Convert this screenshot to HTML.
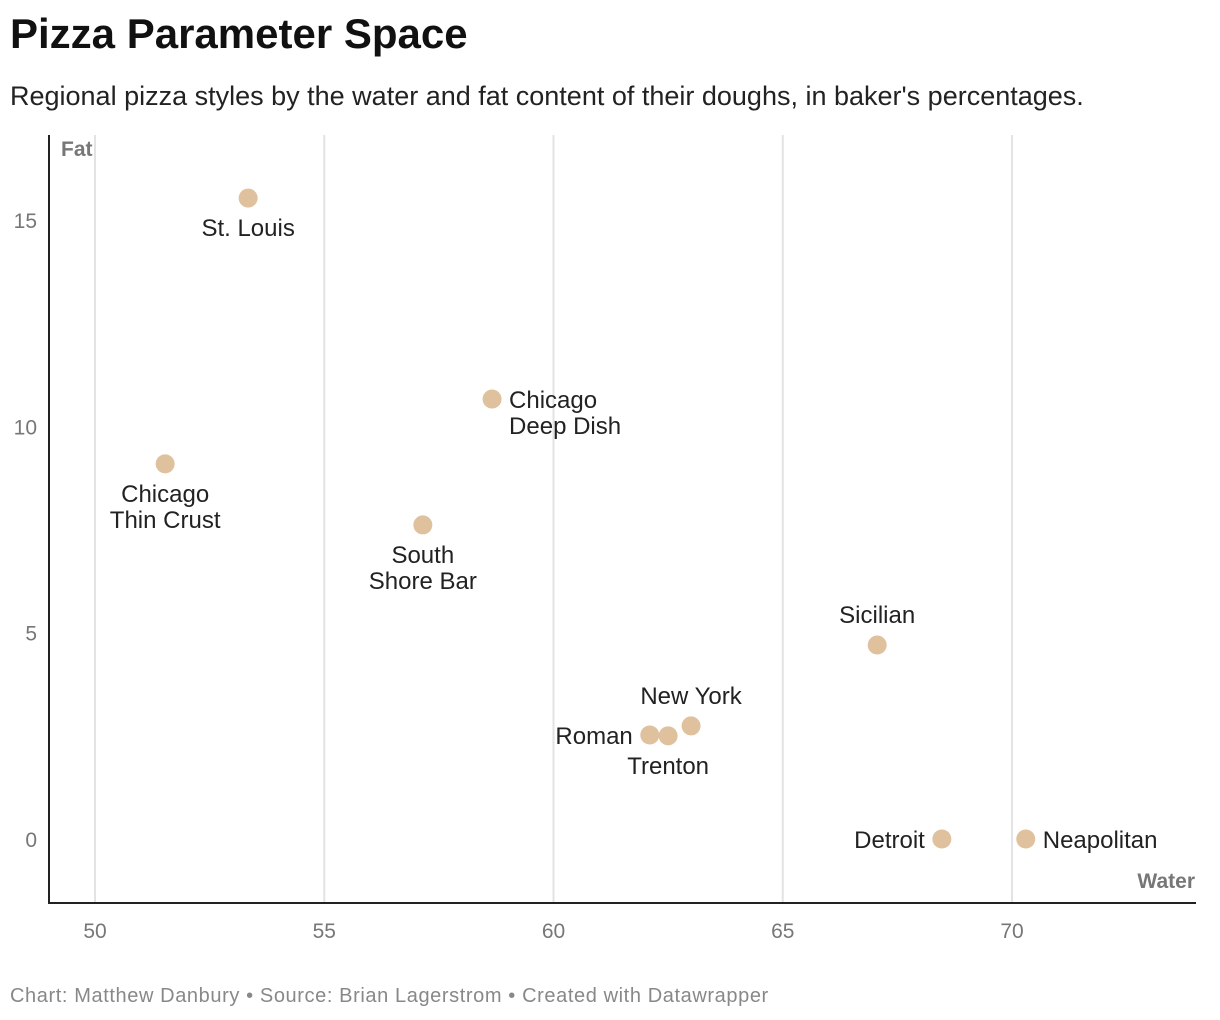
<!DOCTYPE html>
<html><head><meta charset="utf-8"><style>
body{margin:0;background:#fff;font-family:"Liberation Sans",sans-serif;}
#wrap{position:relative;width:1220px;height:1020px;overflow:hidden}
h1{position:absolute;left:10px;top:10px;margin:0;font-size:42px;font-weight:bold;color:#111}
.sub{position:absolute;left:10px;top:81px;font-size:27px;color:#222;white-space:nowrap}
.foot{position:absolute;left:10px;top:985px;font-size:20px;color:#888;letter-spacing:0.6px;white-space:nowrap}
</style></head><body>
<div id="wrap">
<h1>Pizza Parameter Space</h1>
<div class="sub">Regional pizza styles by the water and fat content of their doughs, in baker's percentages.</div>
<svg id="plot" width="1220" height="1020" style="position:absolute;left:0;top:0"></svg>
<div class="foot">Chart: Matthew Danbury • Source: Brian Lagerstrom • Created with Datawrapper</div>
</div>
<script>
const names=["St. Louis","Chicago\nDeep Dish","Chicago\nThin Crust","South\nShore Bar","Sicilian","New York","Roman","Trenton","Detroit","Neapolitan"];
const water=[53.34,58.66,51.53,57.15,67.06,63.0,62.1,62.5,68.47,70.3];
const fat=[15.53,10.66,9.09,7.61,4.70,2.74,2.52,2.5,0,0];
const labelPos=["below","right","below","below","above","above","left","below","left","right"];
const xTicks=[50,55,60,65,70];
const yTicks=[0,5,10,15];
const NS="http://www.w3.org/2000/svg";
const svg=document.getElementById('plot');
const X=v=>95+(v-50)*45.85;
const Y=v=>839-v*41.27;
function mk(t,a){const e=document.createElementNS(NS,t);for(const k in a)e.setAttribute(k,a[k]);svg.appendChild(e);return e;}
xTicks.forEach(t=>{
 const g=mk('line',{x1:X(t),x2:X(t),y1:135,y2:903,stroke:'#e3e3e3','stroke-width':2});
 
 
 const l=mk('text',{x:X(t),y:938,'text-anchor':'middle','font-size':21,fill:'#777'});
 l.textContent=t;
 
 
});
yTicks.forEach(t=>{
 const l=mk('text',{x:37,y:Y(t)+8,'text-anchor':'end','font-size':21,fill:'#777'});
 l.textContent=t;
 
 
});
let a=mk('line',{x1:49,x2:49,y1:135,y2:904,stroke:'#222','stroke-width':2});


a=mk('line',{x1:48,x2:1196,y1:903,y2:903,stroke:'#222','stroke-width':2});


let t=mk('text',{x:61,y:156,'font-size':21,'font-weight':'bold',fill:'#777'});t.textContent='Fat';


t=mk('text',{x:1195,y:888,'text-anchor':'end','font-size':21,'font-weight':'bold',fill:'#777'});t.textContent='Water';


names.forEach((n,i)=>{
 const cx=X(water[i]),cy=Y(fat[i]);
 const c=mk('circle',{cx:cx,cy:cy,r:9.5,fill:'#dfc19d'});
 
 
 const lines=n.split('\n');const p=labelPos[i];
 let x=cx,y,anchor='middle';
 if(p==='below')y=cy+38;
 else if(p==='above')y=cy-22-(lines.length-1)*26;
 else if(p==='right'){x=cx+17;anchor='start';y=cy+9;}
 else {x=cx-17;anchor='end';y=cy+9;}
 lines.forEach((ln,j)=>{
  const tx=mk('text',{x:x,y:y+j*26,'text-anchor':anchor,'font-size':24,fill:'#222'});
  tx.textContent=ln;
  
  
 });
});
</script>
</body></html>
